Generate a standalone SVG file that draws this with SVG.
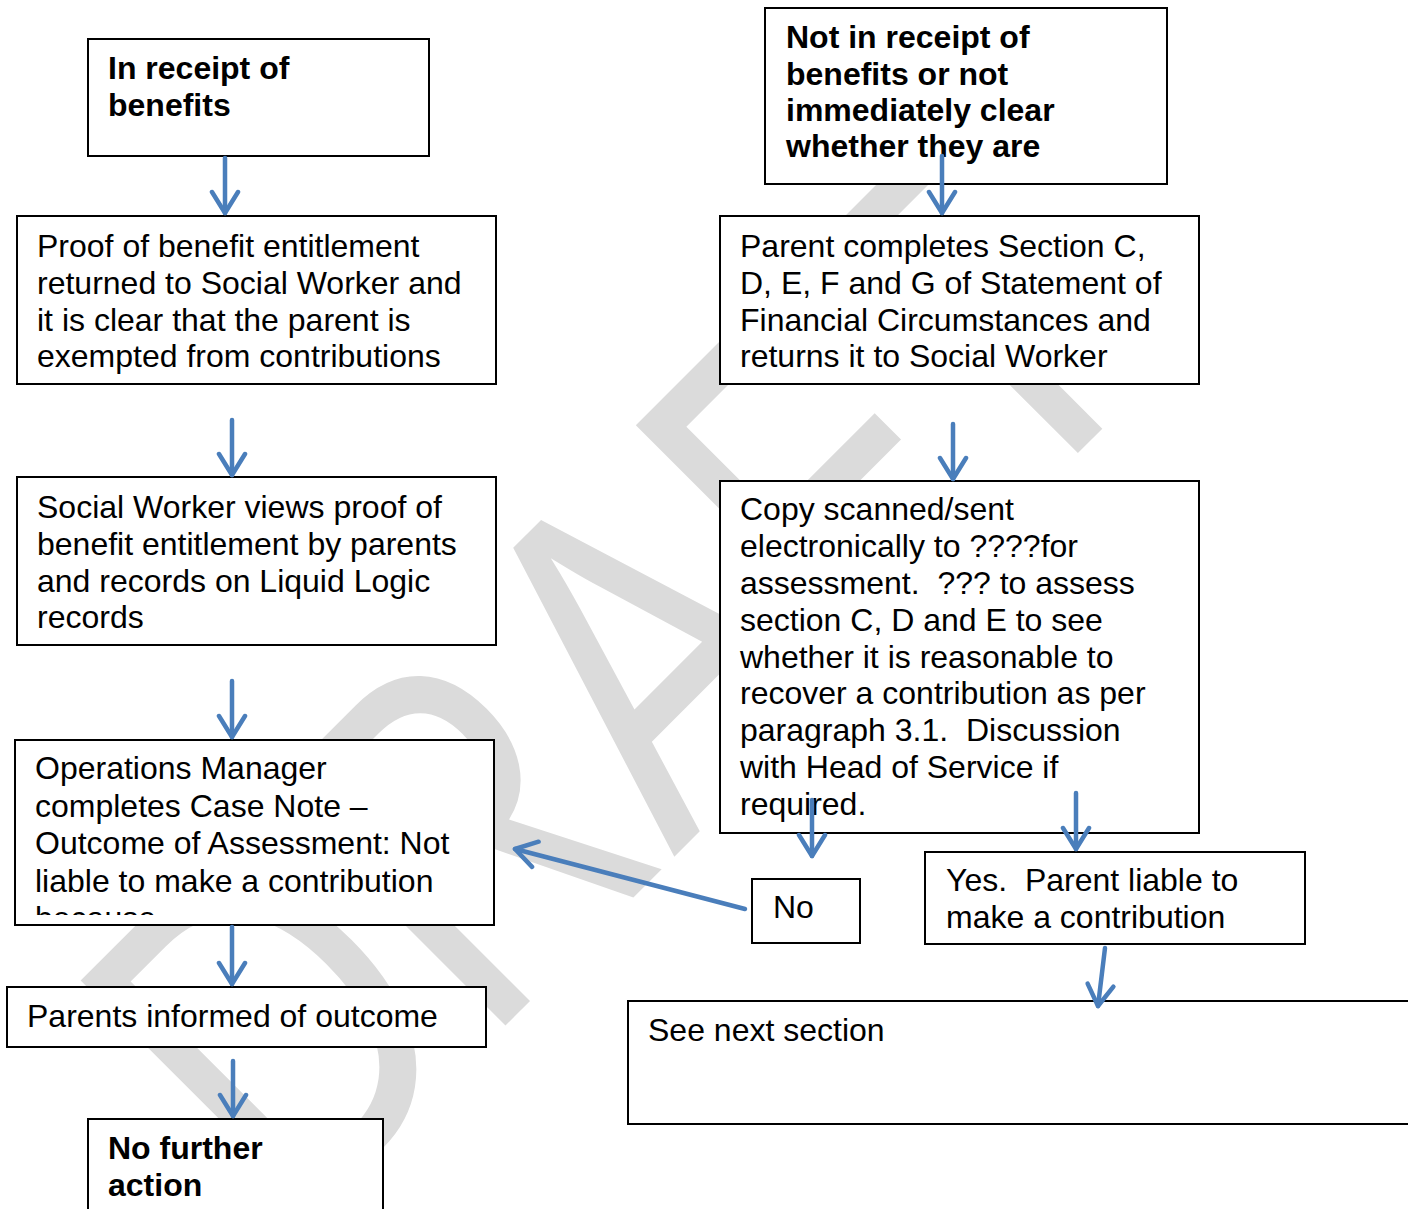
<svg xmlns="http://www.w3.org/2000/svg" width="1408" height="1209" viewBox="0 0 1408 1209">
<style>
.box{fill:#fff;stroke:#000;stroke-width:2}
.t{font-family:"Liberation Sans",Arial,sans-serif;font-size:32px;fill:#000;white-space:pre}
.b{font-weight:bold}
.wm{font-family:"Liberation Sans",Arial,sans-serif;font-size:483px;fill:#dbdbdb}
.c{fill:none;stroke:#4a7ebb;stroke-width:4.5;stroke-linecap:round;marker-end:url(#ah)}
</style>
<defs>
<marker id="ah" markerUnits="userSpaceOnUse" viewBox="-24 -16 28 32" markerWidth="28" markerHeight="32" refX="0" refY="0" orient="auto">
<path d="M-21,-13 L0,0 L-21,13" fill="none" stroke="#4a7ebb" stroke-width="4.5" stroke-linecap="round" stroke-linejoin="round"/>
</marker>
<clipPath id="clip4"><rect x="15" y="740" width="479" height="175"/></clipPath>
</defs>
<rect width="1408" height="1209" fill="#fff"/>
<g id="watermark">
<text class="wm" transform="translate(294,1237) rotate(-45) scale(0.77,1)" x="0" y="0">DRAFT</text>
</g>
<g id="n1">
<rect class="box" x="88" y="39" width="341" height="117"/>
<text class="t b" x="108" y="79">In receipt of</text>
<text class="t b" x="108" y="116">benefits</text>
</g>
<g id="n2">
<rect class="box" x="17" y="216" width="479" height="168"/>
<text class="t" x="37" y="257">Proof of benefit entitlement</text>
<text class="t" x="37" y="294">returned to Social Worker and</text>
<text class="t" x="37" y="331">it is clear that the parent is</text>
<text class="t" x="37" y="367">exempted from contributions</text>
</g>
<g id="n3">
<rect class="box" x="17" y="477" width="479" height="168"/>
<text class="t" x="37" y="518">Social Worker views proof of</text>
<text class="t" x="37" y="555">benefit entitlement by parents</text>
<text class="t" x="37" y="592">and records on Liquid Logic</text>
<text class="t" x="37" y="628">records</text>
</g>
<g id="n4">
<rect class="box" x="15" y="740" width="479" height="185"/>
<g clip-path="url(#clip4)">
<text class="t" x="35" y="779">Operations Manager</text>
<text class="t" x="35" y="817">completes Case Note –</text>
<text class="t" x="35" y="854">Outcome of Assessment: Not</text>
<text class="t" x="35" y="892">liable to make a contribution</text>
<text class="t" x="35" y="929">because</text>
</g>
</g>
<g id="n5">
<rect class="box" x="7" y="987" width="479" height="60"/>
<text class="t" x="27" y="1027">Parents informed of outcome</text>
</g>
<g id="n6">
<rect class="box" x="88" y="1119" width="295" height="100"/>
<text class="t b" x="108" y="1159">No further</text>
<text class="t b" x="108" y="1196">action</text>
</g>
<g id="n7">
<rect class="box" x="765" y="8" width="402" height="176"/>
<text class="t b" x="786" y="48">Not in receipt of</text>
<text class="t b" x="786" y="85">benefits or not</text>
<text class="t b" x="786" y="121">immediately clear</text>
<text class="t b" x="786" y="157">whether they are</text>
</g>
<g id="n8">
<rect class="box" x="720" y="216" width="479" height="168"/>
<text class="t" x="740" y="257">Parent completes Section C,</text>
<text class="t" x="740" y="294">D, E, F and G of Statement of</text>
<text class="t" x="740" y="331">Financial Circumstances and</text>
<text class="t" x="740" y="367">returns it to Social Worker</text>
</g>
<g id="n9">
<rect class="box" x="720" y="481" width="479" height="352"/>
<text class="t" x="740" y="520">Copy scanned/sent</text>
<text class="t" x="740" y="557">electronically to ????for</text>
<text class="t" x="740" y="594" xml:space="preserve">assessment.  ??? to assess</text>
<text class="t" x="740" y="631">section C, D and E to see</text>
<text class="t" x="740" y="668">whether it is reasonable to</text>
<text class="t" x="740" y="704">recover a contribution as per</text>
<text class="t" x="740" y="741" xml:space="preserve">paragraph 3.1.  Discussion</text>
<text class="t" x="740" y="778">with Head of Service if</text>
<text class="t" x="740" y="815">required.</text>
</g>
<g id="n10">
<rect class="box" x="752" y="879" width="108" height="64"/>
<text class="t" x="773" y="918">No</text>
</g>
<g id="n11">
<rect class="box" x="925" y="852" width="380" height="92"/>
<text class="t" x="946" y="891" xml:space="preserve">Yes.  Parent liable to</text>
<text class="t" x="946" y="928">make a contribution</text>
</g>
<g id="n12">
<rect class="box" x="628" y="1001" width="800" height="123"/>
<text class="t" x="648" y="1041">See next section</text>
</g>
<g id="connectors">
<line class="c" x1="225" y1="158" x2="225" y2="213"/>
<line class="c" x1="232" y1="420" x2="232" y2="475"/>
<line class="c" x1="232" y1="681" x2="232" y2="737"/>
<line class="c" x1="232" y1="927" x2="232" y2="984"/>
<line class="c" x1="233" y1="1061" x2="233" y2="1116"/>
<line class="c" x1="942" y1="156" x2="942" y2="213"/>
<line class="c" x1="953" y1="424" x2="953" y2="479"/>
<line class="c" x1="812" y1="800" x2="812" y2="856"/>
<line class="c" x1="1076" y1="793" x2="1076" y2="849"/>
<line class="c" x1="1105" y1="948" x2="1098" y2="1006"/>
<line class="c" x1="745" y1="909" x2="515" y2="849"/>
</g>
</svg>
